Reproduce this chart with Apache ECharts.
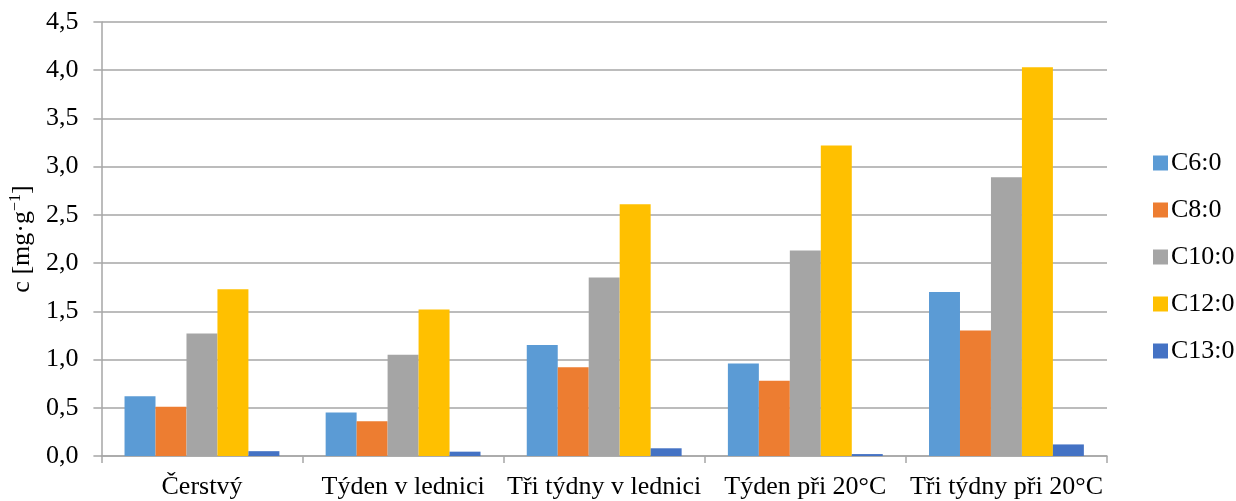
<!DOCTYPE html>
<html>
<head>
<meta charset="utf-8">
<script src="https://cdn.jsdelivr.net/npm/echarts@6/dist/echarts.min.js"></script>
<style>html,body{margin:0;padding:0;background:#fff}#c{width:1236px;height:501px}</style>
</head>
<body>
<div id="c"></div>
<script>
var categories = ['Čerstvý', 'Týden v lednici', 'Tři týdny v lednici', 'Týden při 20°C', 'Tři týdny při 20°C'];
var seriesNames = ['C6:0', 'C8:0', 'C10:0', 'C12:0', 'C13:0'];
var c6 = [0.62, 0.45, 1.15, 0.96, 1.70];
var c8 = [0.51, 0.36, 0.92, 0.78, 1.30];
var c10 = [1.27, 1.05, 1.85, 2.13, 2.89];
var c12 = [1.73, 1.52, 2.61, 3.22, 4.03];
var c13 = [0.05, 0.045, 0.08, 0.02, 0.12];
var colors = ['#5B9BD5', '#ED7D31', '#A5A5A5', '#FFC000', '#4472C4'];
var values = [c6, c8, c10, c12, c13];

var font = 'Liberation Serif';
var chart = echarts.init(document.getElementById('c'));
chart.setOption({
  animation: false,
  textStyle: { fontFamily: font },
  grid: { left: 101, right: 129, top: 22, bottom: 45 },
  legend: {
    orient: 'vertical',
    left: 1148,
    top: 145,
    itemWidth: 15,
    itemHeight: 15,
    itemGap: 21,
    icon: 'rect',
    textStyle: { fontFamily: font, fontSize: 26, color: '#000', padding: [0, 0, 0, -2] },
    data: seriesNames
  },
  xAxis: {
    type: 'category',
    data: categories,
    axisLine: { lineStyle: { color: '#A6A6A6', width: 1.5 } },
    axisTick: { show: true, length: 7, lineStyle: { color: '#A6A6A6', width: 1.5 } },
    axisLabel: { fontFamily: font, fontSize: 26, color: '#000', margin: 18, interval: 0 }
  },
  yAxis: {
    type: 'value',
    min: 0, max: 4.5, interval: 0.5,
    name: 'c [mg·g{sup|−1}]',
    nameLocation: 'middle',
    nameGap: 61,
    nameTextStyle: {
      fontFamily: font, fontSize: 26, color: '#000',
      rich: { sup: { fontFamily: font, fontSize: 16, verticalAlign: 'top', padding: [0, 0, 12, 0], color: '#000' } }
    },
    axisLine: { show: true, lineStyle: { color: '#A6A6A6', width: 1.5 } },
    axisTick: { show: true, length: 8, lineStyle: { color: '#A6A6A6', width: 1.5 } },
    splitLine: { lineStyle: { color: '#A6A6A6', width: 1.5 } },
    axisLabel: {
      fontFamily: font, fontSize: 26, color: '#000', margin: 23,
      formatter: function (v) { return v.toFixed(1).replace('.', ','); }
    }
  },
  series: seriesNames.map(function (n, i) {
    return {
      name: n, type: 'bar', data: values[i],
      barGap: '0%', barCategoryGap: '23%',
      itemStyle: { color: colors[i] }
    };
  })
});
</script>
</body>
</html>
